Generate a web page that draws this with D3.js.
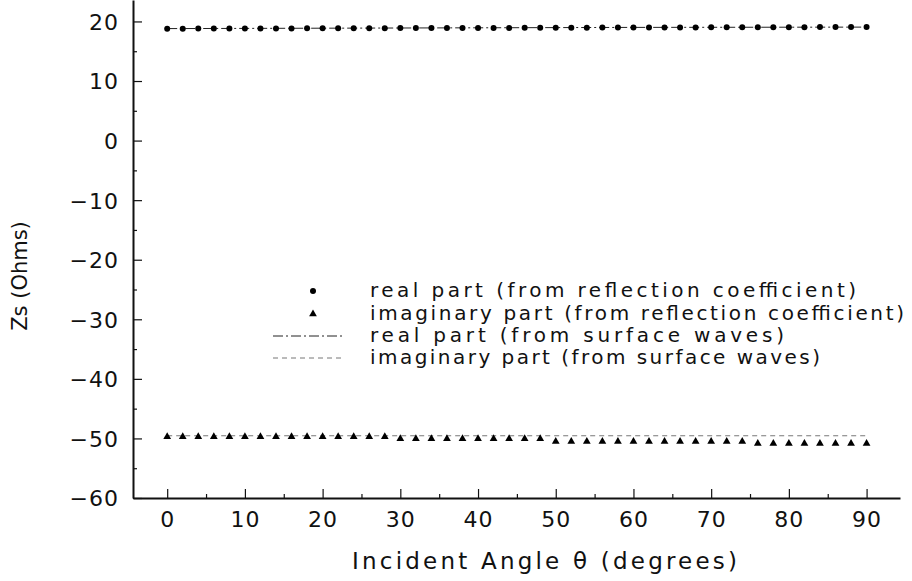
<!DOCTYPE html>
<html>
<head>
<meta charset="utf-8">
<script src="https://cdn.jsdelivr.net/npm/d3@7"></script>
<style>
  body { margin: 0; background: #fff; }
  text { font-family: "DejaVu Sans", sans-serif; fill: #111; }
</style>
</head>
<body>
<div id="chart"></div>
<script>
// incident angle (degrees) of each measured point
var angles = [0, 2, 4, 6, 8, 10, 12, 14, 16, 18, 20, 22, 24, 26, 28, 30, 32, 34, 36, 38, 40, 42, 44,
              46, 48, 50, 52, 54, 56, 58, 60, 62, 64, 66, 68, 70, 72, 74, 76, 78, 80, 82, 84, 86, 88, 90];

// from reflection coefficient
var realRC = [18.78, 18.78, 18.8, 18.8, 18.8, 18.8, 18.82, 18.82, 18.82, 18.84, 18.84, 18.85, 18.86, 18.86, 18.87,
              18.88, 18.88, 18.9, 18.9, 18.9, 18.9, 18.92, 18.92, 18.93, 18.94, 18.95, 18.96, 18.96, 18.97, 18.98,
              18.98, 19.0, 19.0, 19.0, 19.0, 19.01, 19.02, 19.02, 19.03, 19.03, 19.04, 19.04, 19.05, 19.05, 19.05, 19.05];
var imagRC = [-49.7, -49.7, -49.7, -49.7, -49.7, -49.7, -49.7, -49.7, -49.7, -49.7, -49.7, -49.7, -49.7, -49.7, -49.7,
              -50.05, -50.05, -50.05, -50.05, -50.05, -50.05, -50.05, -50.05, -50.05, -50.05,
              -50.5, -50.5, -50.5, -50.5, -50.5, -50.5, -50.5, -50.5, -50.5, -50.5, -50.5, -50.5, -50.5,
              -50.85, -50.85, -50.85, -50.85, -50.85, -50.85, -50.85, -50.85];

// from surface waves
var swAngles = [0, 30, 60, 90];
var realSW = [18.8, 18.9, 19.0, 19.05];
var imagSW = [-49.55, -49.55, -49.55, -49.55];

var xTicks = [0, 10, 20, 30, 40, 50, 60, 70, 80, 90];
var yTicks = [20, 10, 0, -10, -20, -30, -40, -50, -60];

var legendLabels = [
  "real part (from reflection coefficient)",
  "imaginary part (from reflection coefficient)",
  "real part (from surface waves)",
  "imaginary part (from surface waves)"
];
var legendWidths = [486, 534, 414, 450];

var width = 912, height = 581;
var margin = { top: 0, right: 12, bottom: 83, left: 133 };

var svg = d3.select("#chart").append("svg")
    .attr("width", width)
    .attr("height", height);

var x = d3.scaleLinear().domain([-4.4, 94.3]).range([margin.left, width - margin.right]);
var y = d3.scaleLinear().domain([-60, 23.6]).range([height - margin.bottom, margin.top]);

var fmt = function (d) { return d < 0 ? "\u2212" + Math.abs(d) : String(d); };

// x axis: ticks pointing up into the plot
var xAxis = svg.append("g")
    .attr("transform", "translate(0," + y(-60) + ")")
    .call(d3.axisBottom(x).tickValues(xTicks).tickSizeInner(-9).tickSizeOuter(0).tickPadding(13).tickFormat(fmt));
svg.append("g")
    .attr("transform", "translate(0," + y(-60) + ")")
    .call(d3.axisBottom(x).tickValues(xTicks.map(function (d) { return d + 5; }).filter(function (d) { return d < 94; }))
      .tickSizeInner(-4).tickSizeOuter(0).tickFormat(""))
    .select(".domain").remove();

var yAxis = svg.append("g")
    .attr("transform", "translate(" + x(-4.4) + ",0)")
    .call(d3.axisLeft(y).tickValues(yTicks).tickSizeInner(-9).tickSizeOuter(0).tickPadding(15).tickFormat(fmt));
svg.append("g")
    .attr("transform", "translate(" + x(-4.4) + ",0)")
    .call(d3.axisLeft(y).tickValues(yTicks.slice(0, -1).map(function (d) { return d - 5; }))
      .tickSizeInner(-4).tickSizeOuter(0).tickFormat(""))
    .select(".domain").remove();

svg.selectAll(".domain").attr("stroke", "#111").attr("stroke-width", 2);
svg.selectAll(".tick line").attr("stroke", "#111").attr("stroke-width", 1.2);
svg.selectAll(".tick text").style("font-size", "22px").style("letter-spacing", "1px").attr("fill", "#111");
yAxis.selectAll(".tick text").attr("dy", "0.36em").attr("dx", "1px");

// axis titles
svg.append("text")
    .attr("x", 352).attr("y", 569)
    .attr("textLength", 385).attr("lengthAdjust", "spacing")
    .style("font-size", "23px")
    .text("Incident Angle \u03b8  (degrees)");
svg.append("text")
    .attr("transform", "translate(27,276) rotate(-90)")
    .attr("text-anchor", "middle")
    .style("font-size", "21px")
    .text("Zs (Ohms)");

// surface-wave lines
var line = d3.line()
    .x(function (d) { return x(d[0]); })
    .y(function (d) { return y(d[1]); });

svg.append("path")
    .datum(d3.zip(swAngles, realSW))
    .attr("d", line)
    .attr("fill", "none").attr("stroke", "#222").attr("stroke-width", 1)
    .attr("stroke-dasharray", "10,3,2,3");
svg.append("path")
    .datum(d3.zip(swAngles, imagSW))
    .attr("d", line)
    .attr("fill", "none").attr("stroke", "#777").attr("stroke-width", 1)
    .attr("stroke-dasharray", "5,4");

// reflection-coefficient points
svg.append("g").selectAll("circle")
    .data(d3.zip(angles, realRC))
    .enter().append("circle")
    .attr("cx", function (d) { return x(d[0]); })
    .attr("cy", function (d) { return y(d[1]); })
    .attr("r", 3)
    .attr("fill", "#000");

var tri = d3.symbol().type(d3.symbolTriangle).size(26);
svg.append("g").selectAll("path")
    .data(d3.zip(angles, imagRC))
    .enter().append("path")
    .attr("d", tri)
    .attr("transform", function (d) { return "translate(" + x(d[0]) + "," + y(d[1]) + ")"; })
    .attr("fill", "#000");

// legend
var legend = svg.append("g");
var rowY = [291, 314, 336, 358];
legend.append("circle").attr("cx", 313).attr("cy", rowY[0]).attr("r", 3).attr("fill", "#000");
legend.append("path").attr("d", tri).attr("transform", "translate(313," + rowY[1] + ")").attr("fill", "#000");
legend.append("line").attr("x1", 273).attr("x2", 342).attr("y1", rowY[2]).attr("y2", rowY[2])
    .attr("stroke", "#222").attr("stroke-dasharray", "10,3,2,3");
legend.append("line").attr("x1", 273).attr("x2", 342).attr("y1", rowY[3]).attr("y2", rowY[3])
    .attr("stroke", "#777").attr("stroke-dasharray", "5,4");
legend.selectAll("text")
    .data(legendLabels)
    .enter().append("text")
    .attr("x", 370)
    .attr("y", function (d, i) { return rowY[i]; })
    .attr("dy", "0.32em")
    .attr("textLength", function (d, i) { return legendWidths[i]; })
    .attr("lengthAdjust", "spacing")
    .style("font-size", "20px")
    .text(function (d) { return d; });
</script>
</body>
</html>
